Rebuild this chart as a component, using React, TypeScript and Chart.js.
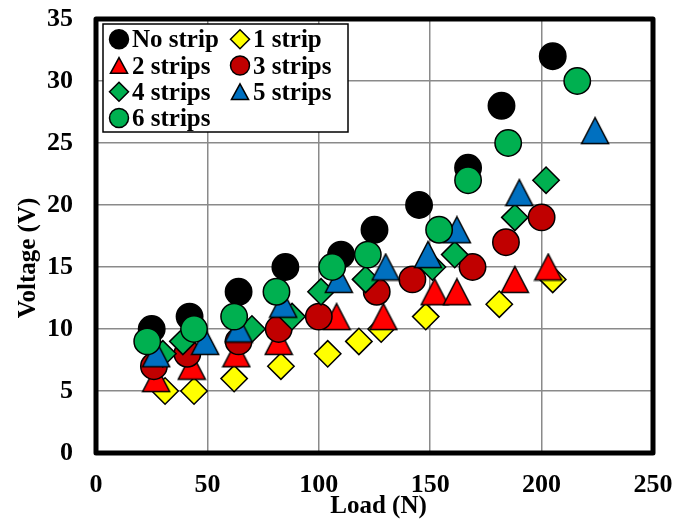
import React, { useEffect, useRef } from 'react';
import { Chart, registerables } from 'chart.js';

Chart.register(...registerables);

const FONT = '"Liberation Serif", "Times New Roman", serif';

// ---- data ----
const seriesNames = ['No strip', '1 strip', '2 strips', '3 strips', '4 strips', '5 strips', '6 strips'];

const noStripLoad = [25, 42, 64, 85, 110, 125, 145, 167, 182, 205];
const noStripVolt = [10, 11, 13, 15, 16, 18, 20, 23, 28, 32];

const strip1Load = [31, 44, 62, 83, 104, 118, 128, 148, 181, 205];
const strip1Volt = [5, 5, 6, 7, 8, 9, 10, 11, 12, 14];

const strip2Load = [27, 43, 63, 82, 108, 129, 152, 162, 188, 203];
const strip2Volt = [6, 7, 8, 9, 11, 11, 13, 13, 14, 15];

const strip3Load = [26, 41, 64, 82, 100, 126, 142, 169, 184, 200];
const strip3Volt = [7, 8, 9, 10, 11, 13, 14, 15, 17, 19];

const strip4Load = [30, 39, 70, 88, 101, 121, 151, 161, 188, 202];
const strip4Volt = [8, 9, 10, 11, 13, 14, 15, 16, 19, 22];

const strip5Load = [27, 49, 64, 84, 109, 130, 149, 162, 190, 224];
const strip5Volt = [8, 9, 10, 12, 14, 15, 16, 18, 21, 26];

const strip6Load = [23, 44, 62, 81, 106, 122, 154, 167, 185, 216];
const strip6Volt = [9, 10, 11, 13, 15, 16, 18, 22, 25, 30];

const xMin = 0, xMax = 250, xStep = 50;
const yMin = 0, yMax = 35, yStep = 5;

const xTitle = 'Load (N)';
const yTitle = 'Voltage (V)';

// ---- styles ----
const colors = ['#000000', '#FFFF00', '#FF0000', '#C00000', '#00B050', '#0070C0', '#00B050'];
const shapes = ['circle', 'diamond', 'triangle', 'circle', 'diamond', 'triangle', 'circle'];

function makeTriangle(fill: string, w: number, h: number): HTMLCanvasElement {
  const c = document.createElement('canvas');
  const lw = 1.5;
  c.width = Math.ceil(w + 3);
  c.height = Math.ceil(h + 3);
  const ctx = c.getContext('2d')!;
  const cx = c.width / 2;
  const top = (c.height - h) / 2;
  ctx.beginPath();
  ctx.moveTo(cx, top);
  ctx.lineTo(cx + w / 2, top + h);
  ctx.lineTo(cx - w / 2, top + h);
  ctx.closePath();
  ctx.fillStyle = fill;
  ctx.fill();
  ctx.lineWidth = lw;
  ctx.lineJoin = 'miter';
  ctx.strokeStyle = '#000';
  ctx.stroke();
  return c;
}

function drawMarker(ctx: CanvasRenderingContext2D, shape: string, fill: string, x: number, y: number, s: number) {
  ctx.save();
  ctx.beginPath();
  if (shape === 'circle') {
    ctx.arc(x, y, s, 0, Math.PI * 2);
  } else if (shape === 'diamond') {
    ctx.moveTo(x, y - s);
    ctx.lineTo(x + s, y);
    ctx.lineTo(x, y + s);
    ctx.lineTo(x - s, y);
    ctx.closePath();
  } else {
    const w = s * 1.8, h = s * 1.65;
    ctx.moveTo(x, y - h / 2);
    ctx.lineTo(x + w / 2, y + h / 2);
    ctx.lineTo(x - w / 2, y + h / 2);
    ctx.closePath();
  }
  ctx.fillStyle = fill;
  ctx.fill();
  ctx.lineWidth = 1.5;
  ctx.strokeStyle = '#000';
  ctx.stroke();
  ctx.restore();
}

const legendPlugin = {
  id: 'customLegend',
  afterDraw(chart: any) {
    const ctx: CanvasRenderingContext2D = chart.ctx;
    ctx.save();
    const bx = 103, by = 24, bw = 245, bh = 108;
    ctx.fillStyle = '#fff';
    ctx.fillRect(bx, by, bw, bh);
    ctx.lineWidth = 1.5;
    ctx.strokeStyle = '#000';
    ctx.strokeRect(bx, by, bw, bh);
    const colX = [119, 240];
    const rowY = [39.3, 65.5, 91.7, 118];
    ctx.font = `bold 25px ${FONT}`;
    ctx.textBaseline = 'alphabetic';
    ctx.textAlign = 'left';
    seriesNames.forEach((name, i) => {
      const col = i % 2;
      const row = Math.floor(i / 2);
      const mx = colX[col];
      const my = rowY[row];
      drawMarker(ctx, shapes[i], colors[i], mx, my, 9.5);
      ctx.fillStyle = '#000';
      ctx.fillText(name, mx + 13, my + 8);
    });
    ctx.restore();
  },
};

const framePlugin = {
  id: 'frameAndTitles',
  beforeDatasetsDraw(chart: any) {
    const { ctx, chartArea } = chart;
    ctx.save();
    ctx.lineWidth = 5;
    ctx.lineJoin = 'round';
    ctx.strokeStyle = '#000';
    ctx.strokeRect(chartArea.left, chartArea.top, chartArea.right - chartArea.left, chartArea.bottom - chartArea.top);
    ctx.restore();
  },
  afterDraw(chart: any) {
    const { ctx, chartArea } = chart;
    ctx.save();
    ctx.fillStyle = '#000';
    ctx.font = `bold 25px ${FONT}`;
    ctx.textAlign = 'center';
    ctx.textBaseline = 'middle';
    ctx.fillText(xTitle, (chartArea.left + chartArea.right) / 2 + 4, 507);
    ctx.translate(29, 258);
    ctx.rotate(-Math.PI / 2);
    ctx.fillText(yTitle, 0, 0);
    ctx.restore();
  },
};

export default function App() {
  const ref = useRef<HTMLCanvasElement>(null);

  useEffect(() => {
    if (!ref.current) return;
    const loads = [noStripLoad, strip1Load, strip2Load, strip3Load, strip4Load, strip5Load, strip6Load];
    const volts = [noStripVolt, strip1Volt, strip2Volt, strip3Volt, strip4Volt, strip5Volt, strip6Volt];

    const datasets = seriesNames.map((name, i) => {
      const shape = shapes[i];
      let pointStyle: any = 'circle';
      let radius = 13.2;
      if (shape === 'diamond') { pointStyle = 'rectRot'; radius = 13.2; }
      if (shape === 'triangle') { pointStyle = makeTriangle(colors[i], 27, 26); radius = 13; }
      return {
        label: name,
        data: loads[i].map((x, j) => ({ x, y: volts[i][j] })),
        pointStyle,
        pointRadius: radius,
        pointHoverRadius: radius,
        backgroundColor: colors[i],
        borderColor: '#000',
        borderWidth: 1.5,
        showLine: false,
        order: seriesNames.length - i,
      };
    });

    const tickFont = { family: FONT, size: 26, weight: 'bold' as const };

    const chart = new Chart(ref.current, {
      type: 'scatter',
      data: { datasets },
      options: {
        animation: false,
        responsive: false,
        devicePixelRatio: 1,
        events: [],
        layout: { padding: { top: 19, right: 34, left: 0, bottom: 0 } },
        plugins: {
          legend: { display: false },
          tooltip: { enabled: false },
        },
        scales: {
          x: {
            type: 'linear',
            min: xMin,
            max: xMax,
            ticks: { stepSize: xStep, font: tickFont, color: '#000', padding: 17 },
            grid: { color: '#8a8a8a', lineWidth: 1.5, drawTicks: false },
            border: { display: false },
            afterFit(scale: any) {
              scale.height = 67;
              scale.paddingLeft = 0;
              scale.paddingRight = 0;
            },
          },
          y: {
            type: 'linear',
            min: yMin,
            max: yMax,
            ticks: { stepSize: yStep, font: tickFont, color: '#000', padding: 23 },
            grid: { color: '#8a8a8a', lineWidth: 1.5, drawTicks: false },
            border: { display: false },
            afterFit(scale: any) {
              scale.width = 96;
              scale.paddingTop = 0;
              scale.paddingBottom = 0;
            },
          },
        },
      },
      plugins: [framePlugin, legendPlugin],
    });
    return () => chart.destroy();
  }, []);

  return (
    <div style={{ position: 'fixed', left: 0, top: 0, width: 687, height: 520, background: '#fff' }}>
      <canvas ref={ref} width={687} height={520} style={{ width: 687, height: 520, display: 'block' }} />
    </div>
  );
}
